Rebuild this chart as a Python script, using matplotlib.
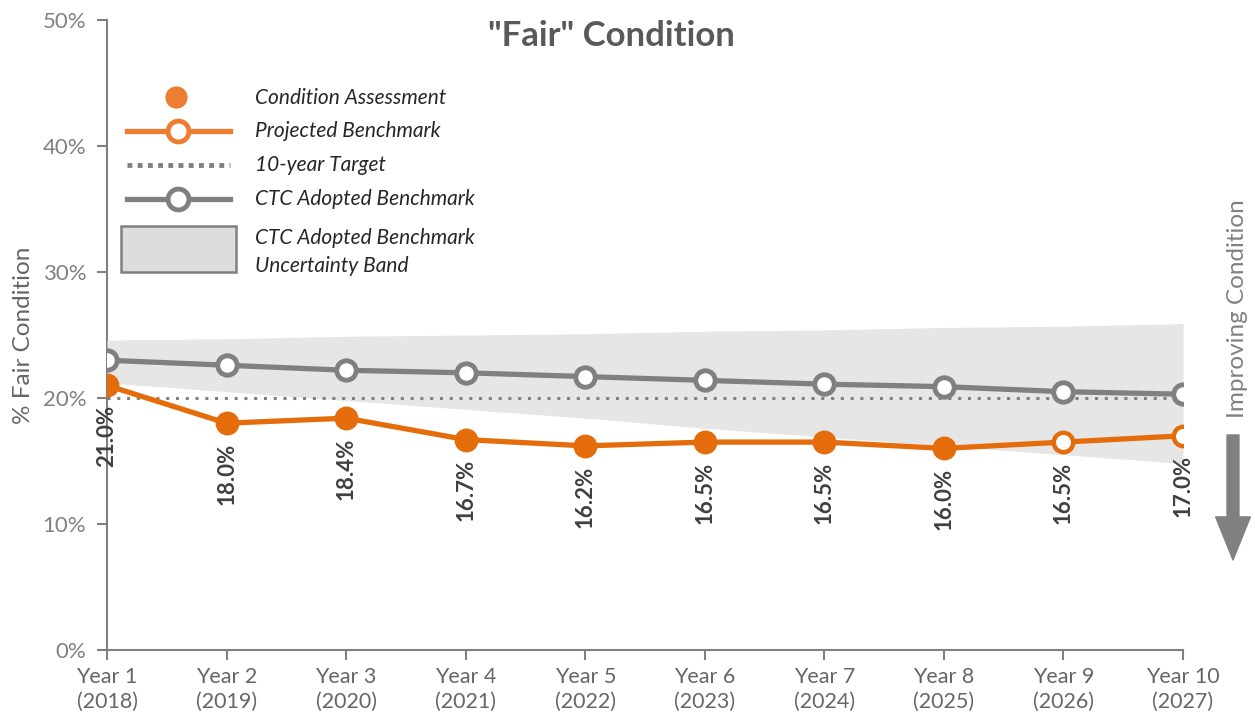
import numpy as np
import matplotlib.pyplot as plt
from matplotlib.lines import Line2D
from matplotlib.patches import Rectangle

plt.rcParams['font.family'] = ['Lato', 'DejaVu Sans']

# данные
years = ['Year 1\n(2018)', 'Year 2\n(2019)', 'Year 3\n(2020)', 'Year 4\n(2021)', 'Year 5\n(2022)',
         'Year 6\n(2023)', 'Year 7\n(2024)', 'Year 8\n(2025)', 'Year 9\n(2026)', 'Year 10\n(2027)']
fair = [21.0, 18.0, 18.4, 16.7, 16.2, 16.5, 16.5, 16.0, 16.5, 17.0]
n_assessed = 8                     # годы с фактической оценкой
ctc = [23.0, 22.6, 22.2, 22.0, 21.7, 21.4, 21.1, 20.9, 20.5, 20.3]
band_hi = [24.6, 24.7, 24.9, 25.0, 25.1, 25.3, 25.4, 25.6, 25.7, 25.9]
band_lo = [21.2, 20.5, 19.8, 19.1, 18.4, 17.6, 16.9, 16.2, 15.5, 14.8]
target = 20.0

orange = '#E46C0A'
grey = '#808080'

W, H = 1255, 725
fig = plt.figure(figsize=(W / 100, H / 100), dpi=100)
ax = fig.add_axes([107 / W, 1 - 650 / H, (1183 - 107) / W, (650 - 20) / H])

x = np.arange(len(years))

# полоса неопределённости
ax.fill_between(x, band_lo, band_hi, color='#E6E6E6', lw=0, zorder=1)
# цель
ax.plot([x[0], x[-1]], [target, target], color=grey, lw=2.2, ls=(0, (1, 2.2)), zorder=2)
# CTC
ax.plot(x, ctc, color=grey, lw=3.8, marker='o', ms=14, mfc='white', mec=grey, mew=3.5, zorder=3)
# прогноз + оценка
ax.plot(x, fair, color=orange, lw=3.8, marker='o', ms=14, mfc='white', mec=orange, mew=3.2, zorder=4)
ax.plot(x[:n_assessed], fair[:n_assessed], ls='none', marker='o', ms=15, color=orange, zorder=5)

for xi, v in zip(x, fair):
    ax.annotate(f'{v:.1f}%', (xi, v), xytext=(0, -14), textcoords='offset points',
                rotation=90, ha='center', va='top', fontsize=16, fontweight='bold',
                color='#404040', zorder=6)

ax.set_xlim(0, 9)
ax.set_ylim(0, 50)
ax.set_yticks([0, 10, 20, 30, 40, 50])
ax.set_yticklabels([f'{t}%' for t in [0, 10, 20, 30, 40, 50]], fontsize=16, color=grey)
ax.set_xticks(x)
ax.set_xticklabels(years, fontsize=15.5, color='#666666', linespacing=1.3)
ax.tick_params(axis='both', direction='out', length=7, width=1.5, color=grey)
ax.tick_params(axis='y', pad=8)
ax.tick_params(axis='x', pad=5)
for s in ['top', 'right']:
    ax.spines[s].set_visible(False)
for s in ['left', 'bottom']:
    ax.spines[s].set_color(grey)
    ax.spines[s].set_linewidth(1.5)
    ax.spines[s].set_zorder(0.5)

ax.set_ylabel('% Fair Condition', fontsize=17.5, color='#666666', labelpad=6)

fig.text(611 / W, 1 - 36 / H, '"Fair" Condition', fontsize=25, fontweight='bold',
         color='#595959', ha='center', va='center')

# стрелка справа
fig.text(1238 / W, 1 - 309 / H, 'Improving Condition', rotation=90, fontsize=17.5,
         color=grey, ha='center', va='center')
ax.annotate('', xy=(1233, H - 560), xycoords='figure pixels',
            xytext=(1233, H - 435), textcoords='figure pixels',
            arrowprops=dict(arrowstyle='simple,head_length=1.55,head_width=1.25,tail_width=0.43',
                            mutation_scale=20, color=grey, shrinkA=0, shrinkB=0),
            annotation_clip=False)


# легенда вручную
def fx(px):
    return px / W


def fy(py):
    return 1 - py / H


T = fig.transFigure
fig.add_artist(Line2D([fx(176)], [fy(97)], ls='none', marker='o', ms=15, color='#ED7D31', transform=T))
fig.add_artist(Line2D([fx(127), fx(230)], [fy(131), fy(131)], color='#ED7D31', lw=3.8, transform=T))
fig.add_artist(Line2D([fx(178)], [fy(131)], ls='none', marker='o', ms=15, mfc='white',
                      mec='#ED7D31', mew=3.5, transform=T))
fig.add_artist(Line2D([fx(127), fx(230)], [fy(165), fy(165)], color=grey, lw=3.5,
                      ls=(0, (1, 1.1)), transform=T))
fig.add_artist(Line2D([fx(127), fx(230)], [fy(199), fy(199)], color=grey, lw=3.8, transform=T))
fig.add_artist(Line2D([fx(178)], [fy(199)], ls='none', marker='o', ms=15, mfc='white',
                      mec=grey, mew=3.5, transform=T))
fig.add_artist(Rectangle((fx(121), fy(272)), fx(236) - fx(121), fy(226) - fy(272),
                         facecolor='#DDDDDD', edgecolor=grey, lw=1.8, transform=T))

leg_txt = [('Condition Assessment', 98), ('Projected Benchmark', 131), ('10-year Target', 165),
           ('CTC Adopted Benchmark', 199), ('CTC Adopted Benchmark', 238), ('Uncertainty Band', 266)]
for t, yy in leg_txt:
    fig.text(fx(255), fy(yy), t, fontsize=15, style='italic', color='#262626', va='center', ha='left')

fig.savefig('out.png', dpi=100)
